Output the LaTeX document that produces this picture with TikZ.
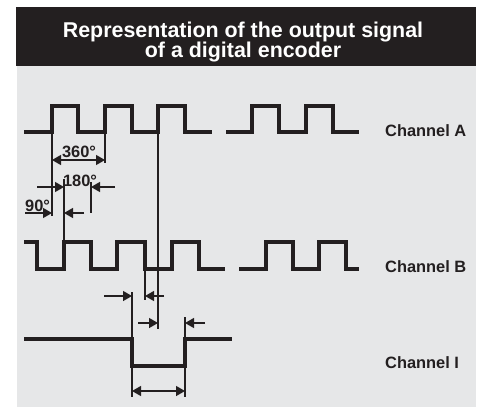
\documentclass[tikz,border=0pt]{standalone}
\usepackage{fontspec}
\setmainfont{Liberation Sans}
\usetikzlibrary{arrows.meta}
\definecolor{bg}{HTML}{E6E7E8}
\definecolor{ink}{HTML}{231F20}
\begin{document}
\begin{tikzpicture}[x=1pt,y=-1pt,
  sig/.style={draw=ink,line width=3.2pt},
  dimline/.style={draw=ink,line width=1.3pt},
  tipend/.style={dimline,-{Triangle[length=9pt,width=10pt]}},
  tipboth/.style={dimline,{Triangle[length=9pt,width=10pt]}-{Triangle[length=9pt,width=10pt]}},
  lbl/.style={font=\bfseries\fontsize{16.4}{18}\selectfont,text=ink,inner sep=0pt,anchor=base west},
  ttl/.style={font=\bfseries\fontsize{21.4}{22}\selectfont,text=white,inner sep=0pt,anchor=base}]
\useasboundingbox (0,0) rectangle (484,408);
% background panels
\fill[bg] (17,66) rectangle (476,407);
\fill[ink] (16,7) rectangle (476,66);
\node[ttl] (t1) at (243,37) {Representation of the output signal};
\node[ttl] (t2) at (243,57) {of a digital encoder};
% Channel A
\draw[sig] (24,132) -- (52,132) -- (52,106) -- (78,106) -- (78,132) -- (105,132) -- (105,106) -- (132,106) -- (132,132) -- (158,132) -- (158,106) -- (185,106) -- (185,132) -- (212,132);
\draw[sig] (226,132) -- (252,132) -- (252,106) -- (279,106) -- (279,132) -- (306,132) -- (306,106) -- (333,106) -- (333,132) -- (359,132);
% Channel B
\draw[sig] (24,242) -- (37,242) -- (37,269) -- (64,269) -- (64,242) -- (91,242) -- (91,269) -- (117,269) -- (117,242) -- (145,242) -- (145,269) -- (172,269) -- (172,242) -- (199,242) -- (199,269) -- (225,269);
\draw[sig] (239,269) -- (266,269) -- (266,242) -- (293,242) -- (293,269) -- (319,269) -- (319,242) -- (346,242) -- (346,269) -- (359,269);
% Channel I
\draw[sig] (24,339) -- (132,339) -- (132,366) -- (185,366) -- (185,339) -- (232,339);
% labels
\node[lbl] (chA) at (385,136) {Channel A};
\node[lbl] (chB) at (385,272) {Channel B};
\node[lbl] (chI) at (385,368) {Channel I};
% extension lines
\coordinate (e52a) at (52,132); \coordinate (e52b) at (52,216);
\coordinate (e105a) at (105,132); \coordinate (e105b) at (105,163);
\coordinate (e64a) at (64,179); \coordinate (e64b) at (64,242);
\coordinate (e91a) at (91,182); \coordinate (e91b) at (91,213);
\coordinate (e158a) at (158,132); \coordinate (e158b) at (158,329);
\coordinate (e145a) at (145,269); \coordinate (e145b) at (145,300);
\coordinate (e132a) at (132,292); \coordinate (e132b) at (132,397);
\coordinate (e185a) at (185,317); \coordinate (e185b) at (185,397);
\foreach \p in {52,105,64,91,158,145,132,185} \draw[dimline] (e\p a) -- (e\p b);
% 360
\coordinate (d360l) at (52,160); \coordinate (d360r) at (105,160);
\draw[tipboth] (d360l) -- (d360r);
\node[lbl,anchor=base] (l360) at (79,157) {360°};
% 180
\coordinate (d180a) at (37,187); \coordinate (d180b) at (64,187);
\coordinate (d180c) at (115,187); \coordinate (d180d) at (91,187);
\draw[tipend] (d180a) -- (d180b);
\draw[tipend] (d180c) -- (d180d);
\node[lbl,anchor=base] (l180) at (80,186) {180°};
% 90
\coordinate (d90a) at (25,213); \coordinate (d90b) at (52,213);
\coordinate (d90c) at (84,213); \coordinate (d90d) at (64,213);
\draw[tipend] (d90a) -- (d90b);
\draw[tipend] (d90c) -- (d90d);
\node[lbl] (l90) at (25,211) {90°};
% index offsets
\coordinate (o1a) at (104,296); \coordinate (o1b) at (132,296);
\coordinate (o1c) at (164,296); \coordinate (o1d) at (145,296);
\draw[tipend] (o1a) -- (o1b);
\draw[tipend] (o1c) -- (o1d);
\coordinate (o2a) at (138,323); \coordinate (o2b) at (158,323);
\coordinate (o2c) at (205,323); \coordinate (o2d) at (185,323);
\draw[tipend] (o2a) -- (o2b);
\draw[tipend] (o2c) -- (o2d);
\coordinate (wI1) at (132,391); \coordinate (wI2) at (185,391);
\draw[tipboth] (wI1) -- (wI2);
\end{tikzpicture}
\end{document}
